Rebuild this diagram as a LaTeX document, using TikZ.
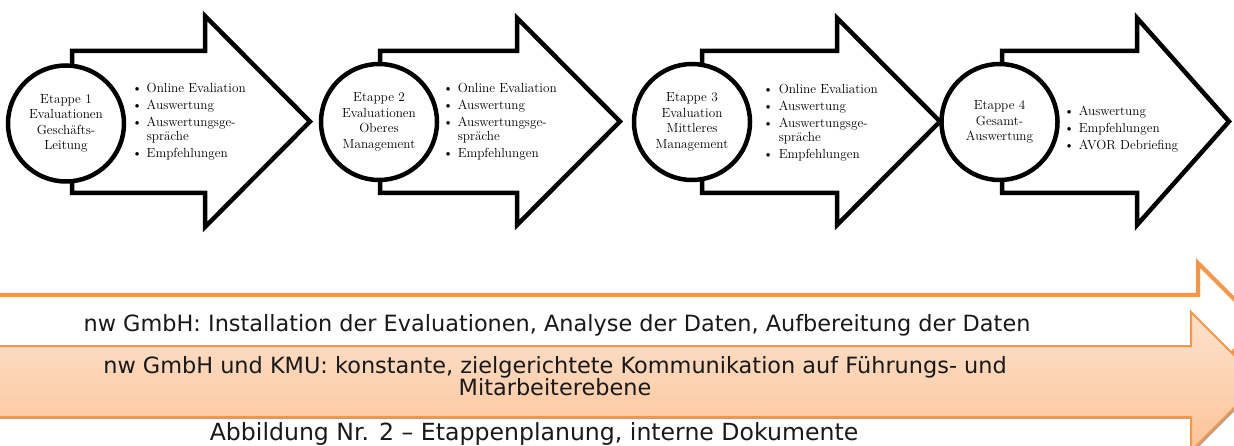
\documentclass[tikz,border=0pt]{standalone}
\usepackage{fontspec}
\newfontfamily\verd{DejaVu Sans}
\definecolor{accor}{RGB}{247,150,70}
\definecolor{peachtop}{RGB}{253,226,205}
\definecolor{peachbot}{RGB}{251,196,152}
\definecolor{shadowgray}{RGB}{165,165,165}
\begin{document}
\begin{tikzpicture}[x=1pt,y=-1pt,
  blkarrow/.style={draw=black,line width=4.5pt,fill=white,line join=miter},
  stagecircle/.style={circle,draw=black,line width=4.5pt,fill=white,minimum size=116pt,inner sep=0pt,
     align=center,font=\fontsize{13.2}{15.5}\selectfont},
  bullist/.style={anchor=west,inner sep=0pt,font=\fontsize{13.2}{13.6}\selectfont},
  sanstext/.style={inner sep=0pt,font=\verd\fontsize{22.4}{20}\selectfont,text=black!90}]
\useasboundingbox (0,0) rectangle (1234,446);
\clip (0,0) rectangle (1234,446);
% ---- block arrows (black) ----
\draw[blkarrow] (72,51) -- (205,51) -- (205,16) -- (310,121.5) -- (205,227) -- (205,193) -- (72,193) -- cycle;
\draw[blkarrow] (380,51) -- (517,51) -- (517,18) -- (620,121.5) -- (517,225) -- (517,193) -- (380,193) -- cycle;
\draw[blkarrow] (702,51) -- (837,51) -- (837,18) -- (940,121.5) -- (837,225) -- (837,193) -- (702,193) -- cycle;
\draw[blkarrow] (1002,51) -- (1137,51) -- (1137,18) -- (1229,121.5) -- (1137,225) -- (1137,193) -- (1002,193) -- cycle;
% ---- circles ----
\node[stagecircle] (c1) at (66,123.5) {Etappe 1\\Evaluationen\\Geschäfts-\\Leitung};
\node[stagecircle] (c2) at (379,122) {Etappe 2\\Evaluationen\\Oberes\\Management};
\node[stagecircle] (c3) at (692,122) {Etappe 3\\Evaluation\\Mittleres\\Management};
\node[stagecircle] (c4) at (999.5,122) {Etappe 4\\Gesamt-\\Auswertung};
% ---- bullet lists ----
\node[bullist] (b1) at (132,122) {\begin{tabular}{@{}l@{\hspace{4.5pt}}l@{}}\textbullet & Online Evaliation\\[3.5pt] \textbullet & Auswertung\\[3.5pt] \textbullet & Auswertungsge-\\ & spräche\\[3.5pt] \textbullet & Empfehlungen\end{tabular}};
\node[bullist] (b2) at (443,122) {\begin{tabular}{@{}l@{\hspace{4.5pt}}l@{}}\textbullet & Online Evaliation\\[3.5pt] \textbullet & Auswertung\\[3.5pt] \textbullet & Auswertungsge-\\ & spräche\\[3.5pt] \textbullet & Empfehlungen\end{tabular}};
\node[bullist] (b3) at (763,123.5) {\begin{tabular}{@{}l@{\hspace{5.5pt}}l@{}}\textbullet & Online Evaliation\\[3.5pt] \textbullet & Auswertung\\[3.5pt] \textbullet & Auswertungsge-\\ & spräche\\[3.5pt] \textbullet & Empfehlungen\end{tabular}};
\node[bullist] (b4) at (1064,130) {\begin{tabular}{@{}l@{\hspace{4.5pt}}l@{}}\textbullet & Auswertung\\[3.5pt] \textbullet & Empfehlungen\\[3.5pt] \textbullet & AVOR Debriefing\end{tabular}};
% ---- orange arrows ----
\draw[draw=accor,line width=4pt,fill=white,line join=miter]
  (-5,295) -- (1198,295) -- (1198,263) -- (1260,325) -- (1198,387) -- (1198,355) -- (-5,355) -- cycle;
\fill[shadowgray] (-5,349) -- (1192.5,349) -- (1192.5,314) -- (1262,383.5) -- (1192.5,453) -- (1192.5,419) -- (-5,419) -- cycle;
\draw[draw=accor,line width=2pt,top color=peachtop,bottom color=peachbot,line join=miter]
  (-5,346) -- (1191,346) -- (1191,312) -- (1260.5,381.5) -- (1191,451) -- (1191,417) -- (-5,417) -- cycle;
% ---- texts ----
\node[sanstext] (t1) at (557,325) {nw GmbH: Installation der Evaluationen, Analyse der Daten, Aufbereitung der Daten};
\node[sanstext,align=center] (t2) at (555,376) {nw GmbH und KMU: konstante, zielgerichtete Kommunikation auf Führungs- und\\Mitarbeiterebene};
\node[sanstext,font=\verd\fontsize{23.6}{24}\selectfont] (cap) at (534,434) {Abbildung Nr. 2 – Etappenplanung, interne Dokumente};
\end{tikzpicture}
\end{document}
